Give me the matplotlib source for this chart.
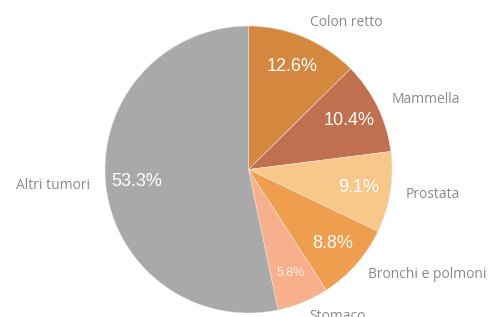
import matplotlib
matplotlib.use("Agg")
import numpy as np
import matplotlib.pyplot as plt

# Tumour share data
labels = ['Colon retto', 'Mammella', 'Prostata', 'Bronchi e polmoni', 'Stomaco', 'Altri tumori']
shares = [12.6, 10.4, 9.1, 8.8, 5.8, 53.3]
colors = ['#D4883F', '#C0704E', '#F8C88A', '#EE9E4D', '#F8AF8C', '#A9A9A9']

fig = plt.figure(figsize=(4.95, 3.17), dpi=100)
ax = fig.add_axes([0, 0, 1, 1])

# pixel-like coordinate system so the pie sits where the reference has it
ax.set_xlim(0, 495)
ax.set_ylim(0, 317)

wedges, texts, autotexts = ax.pie(
    shares, labels=labels, colors=colors,
    autopct='%1.1f%%', startangle=90, counterclock=False,
    center=(248.5, 317 - 169.5), radius=143.5, frame=True,
    labeldistance=1.11, pctdistance=0.78,
    wedgeprops={'linewidth': 0.4, 'edgecolor': '#f0e2d6'},
    textprops={'fontsize': 10, 'color': '#8a8a8a', 'family': 'Open Sans'},
)

# pie decides left/right alignment from x > 0, which breaks with an offset centre
for w, t in zip(wedges, texts):
    mid = np.deg2rad((w.theta1 + w.theta2) / 2)
    t.set_ha('left' if np.cos(mid) > 0 else 'right')
    t.set_va('center')

for t in autotexts:
    t.set_color('white')
    t.set_fontsize(13)
    t.set_family('Liberation Sans')
# the smallest slice has a faint, smaller label
autotexts[4].set_fontsize(9)
autotexts[4].set_alpha(0.8)

ax.set_aspect('equal')
ax.axis('off')

fig.savefig('out.png', dpi=100)
